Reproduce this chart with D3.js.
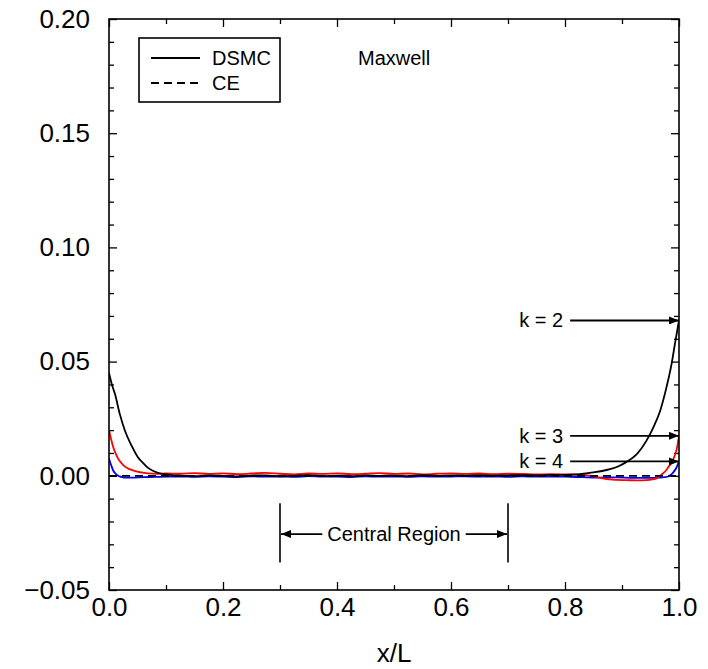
<!DOCTYPE html>
<html>
<head>
<meta charset="utf-8">
<script src="https://cdn.jsdelivr.net/npm/d3@7"></script>
<style>
  html, body { margin: 0; padding: 0; background: #fff; }
  svg { display: block; font-family: "Liberation Sans", Arial, Helvetica, sans-serif; }
</style>
</head>
<body>
<svg id="chart" width="708" height="669"></svg>
<script>
// Shared x positions through the flat middle of the channel
const xMid = [0.125, 0.15, 0.175, 0.2, 0.225, 0.25, 0.275, 0.3, 0.325, 0.35, 0.375, 0.4, 0.425,
  0.45, 0.475, 0.5, 0.525, 0.55, 0.575, 0.6, 0.625, 0.65, 0.675, 0.7, 0.725, 0.75, 0.775];

// k = 2 (DSMC)
const xK2 = [0, 0.005, 0.0105, 0.019, 0.028, 0.04, 0.051, 0.06, 0.068, 0.077, 0.086, 0.1, 0.11]
  .concat(xMid, [0.8, 0.821, 0.85, 0.865, 0.879, 0.894, 0.908, 0.926, 0.943, 0.955, 0.967, 0.978, 0.987, 0.993, 1.0]);
const yK2 = [0.0450, 0.0400, 0.0358, 0.0270, 0.0197, 0.0130, 0.0080, 0.0056, 0.0036, 0.0022, 0.0013, 0.0006, 0.0003]
  .concat([0.0001, -0.0002, 0.0002, 0.0000, -0.0003, 0.0001, 0.0002, -0.0002, 0.0000, 0.0003, -0.0001, 0.0001, -0.0002,
    0.0002, 0.0000, 0.0001, -0.0001, 0.0003, 0.0000, 0.0002, 0.0001, 0.0003, 0.0001, 0.0002, 0.0003, 0.0002, 0.0004],
    [0.0004, 0.0006, 0.0015, 0.0021, 0.0029, 0.0042, 0.0061, 0.0095, 0.0154, 0.0212, 0.0285, 0.0387, 0.0490, 0.0580, 0.0680]);

// k = 3 (DSMC)
const xK3 = [0, 0.004, 0.0076, 0.012, 0.016, 0.022, 0.028, 0.036, 0.046, 0.056, 0.068, 0.085, 0.1]
  .concat(xMid, [0.8, 0.825, 0.84, 0.855, 0.873, 0.89, 0.908, 0.925, 0.943, 0.953, 0.961, 0.970, 0.976, 0.981, 0.986, 0.990, 0.996, 1.0]);
const yK3 = [0.0200, 0.0158, 0.0124, 0.0096, 0.0075, 0.0055, 0.0040, 0.0029, 0.0020, 0.0015, 0.0011, 0.0009, 0.0010]
  .concat([0.0009, 0.0012, 0.0008, 0.0011, 0.0007, 0.0010, 0.0013, 0.0009, 0.0006, 0.0010, 0.0008, 0.0011, 0.0007,
    0.0009, 0.0012, 0.0008, 0.0010, 0.0006, 0.0009, 0.0011, 0.0008, 0.0010, 0.0007, 0.0009, 0.0008, 0.0006, 0.0007],
    [0.0006, 0.0005, 0.0002, -0.0005, -0.0015, -0.0018, -0.0019, -0.0020, -0.0019, -0.0016, -0.0010, 0.0007, 0.0020, 0.0037, 0.0055, 0.0073, 0.0117, 0.0175]);

// k = 4 (DSMC)
const xK4 = [0, 0.004, 0.0076, 0.012, 0.016, 0.022, 0.028, 0.04, 0.06, 0.08, 0.1]
  .concat(xMid, [0.8, 0.83, 0.86, 0.89, 0.92, 0.95, 0.965, 0.975, 0.981, 0.986, 0.990, 0.995, 1.0]);
const yK4 = [0.0075, 0.0045, 0.0022, 0.0008, 0.0000, -0.0005, -0.0008, -0.0008, -0.0006, -0.0005, -0.0004]
  .concat([-0.0003, -0.0005, -0.0002, -0.0004, -0.0006, -0.0002, -0.0004, -0.0003, -0.0005, -0.0001, -0.0004, -0.0003, -0.0006,
    -0.0002, -0.0004, -0.0003, -0.0005, -0.0002, -0.0004, -0.0003, -0.0002, -0.0004, -0.0003, -0.0005, -0.0002, -0.0004, -0.0003],
    [-0.0004, -0.0006, -0.0008, -0.0007, -0.0009, -0.0009, -0.0008, -0.0006, -0.0003, 0.0005, 0.0015, 0.0033, 0.0063]);

// Chapman-Enskog solution
const xCE = [0, 1];
const yCE = [0, 0];

const seriesColors = ["#000000", "#ff0000", "#0000ff"];
const seriesLabels = ["k = 2", "k = 3", "k = 4"];

const xMajorTicks = [0, 0.2, 0.4, 0.6, 0.8, 1.0];
const xMinorTicks = [0.1, 0.3, 0.5, 0.7, 0.9];
const xTickLabels = ["0.0", "0.2", "0.4", "0.6", "0.8", "1.0"];
const yMajorTicks = [-0.05, 0, 0.05, 0.10, 0.15, 0.20];
const yTickLabels = ["\u22120.05", "0.00", "0.05", "0.10", "0.15", "0.20"];
const yMinorTicks = [-0.04, -0.03, -0.02, -0.01, 0.01, 0.02, 0.03, 0.04, 0.06, 0.07, 0.08, 0.09,
  0.11, 0.12, 0.13, 0.14, 0.16, 0.17, 0.18, 0.19];

const centralBounds = [0.3, 0.7];
const centralLabel = "Central Region";
const legendLabels = ["DSMC", "CE"];
const modelLabel = "Maxwell";
const xAxisTitle = "x/L";

const svg = d3.select("#chart");
const plotLeft = 109, plotRight = 679, plotTop = 19, plotBottom = 590;

const x = d3.scaleLinear().domain([0, 1]).range([plotLeft, plotRight]);
const y = d3.scaleLinear().domain([-0.05, 0.2]).range([plotBottom, plotTop]);

const defs = svg.append("defs");
defs.append("marker").attr("id", "head").attr("viewBox", "0 0 10 8")
  .attr("refX", 10).attr("refY", 4).attr("markerWidth", 10).attr("markerHeight", 8)
  .attr("markerUnits", "userSpaceOnUse").attr("orient", "auto")
  .append("path").attr("d", "M0,0 L10,4 L0,8 Z").attr("fill", "#000");
defs.append("clipPath").attr("id", "plotClip").append("rect")
  .attr("x", plotLeft).attr("y", plotTop).attr("width", plotRight - plotLeft).attr("height", plotBottom - plotTop);

// Axes with inward ticks on all four sides
function styleAxis(g) {
  g.select(".domain").remove();
  g.selectAll(".tick line").attr("stroke", "#000").attr("stroke-width", 1.3);
  g.selectAll(".tick text").attr("fill", "#000").attr("font-size", 26)
    .attr("font-family", "'Liberation Sans', Arial, sans-serif");
}
const fmtX = d => xTickLabels[xMajorTicks.indexOf(d)];
const fmtY = d => yTickLabels[yMajorTicks.indexOf(d)];

svg.append("g").attr("transform", `translate(0,${plotBottom})`)
  .call(d3.axisBottom(x).tickValues(xMajorTicks).tickSize(-8).tickPadding(8).tickFormat(fmtX)).call(styleAxis);
svg.append("g").attr("transform", `translate(0,${plotBottom})`)
  .call(d3.axisBottom(x).tickValues(xMinorTicks).tickSize(-5).tickFormat("")).call(styleAxis);
svg.append("g").attr("transform", `translate(0,${plotTop})`)
  .call(d3.axisTop(x).tickValues(xMajorTicks).tickSize(-8).tickFormat("")).call(styleAxis);
svg.append("g").attr("transform", `translate(0,${plotTop})`)
  .call(d3.axisTop(x).tickValues(xMinorTicks).tickSize(-5).tickFormat("")).call(styleAxis);

svg.append("g").attr("transform", `translate(${plotLeft},0)`)
  .call(d3.axisLeft(y).tickValues(yMajorTicks).tickSize(-8).tickPadding(19).tickFormat(fmtY)).call(styleAxis);
svg.append("g").attr("transform", `translate(${plotLeft},0)`)
  .call(d3.axisLeft(y).tickValues(yMinorTicks).tickSize(-5).tickFormat("")).call(styleAxis);
svg.append("g").attr("transform", `translate(${plotRight},0)`)
  .call(d3.axisRight(y).tickValues(yMajorTicks).tickSize(-8).tickFormat("")).call(styleAxis);
svg.append("g").attr("transform", `translate(${plotRight},0)`)
  .call(d3.axisRight(y).tickValues(yMinorTicks).tickSize(-5).tickFormat("")).call(styleAxis);

// Curves
const line = d3.line().x(d => x(d[0])).y(d => y(d[1])).curve(d3.curveMonotoneX);
const dsmc = [d3.zip(xK2, yK2), d3.zip(xK3, yK3), d3.zip(xK4, yK4)];
const plot = svg.append("g").attr("clip-path", "url(#plotClip)");
plot.selectAll("path.dsmc").data([dsmc[2], dsmc[1], dsmc[0]]).join("path")
  .attr("class", "dsmc").attr("d", line).attr("fill", "none")
  .attr("stroke", (d, i) => seriesColors[2 - i]).attr("stroke-width", 1.8);
plot.append("path").datum(d3.zip(xCE, yCE)).attr("d", line).attr("fill", "none")
  .attr("stroke", "#000").attr("stroke-width", 1.8).attr("stroke-dasharray", "8,5");

// Frame
svg.append("rect").attr("x", plotLeft).attr("y", plotTop).attr("width", plotRight - plotLeft).attr("height", plotBottom - plotTop)
  .attr("fill", "none").attr("stroke", "#000").attr("stroke-width", 1.6);

// k labels with arrows to the wall values
const ends = [yK2[yK2.length - 1], yK3[yK3.length - 1], yK4[yK4.length - 1]];
const arrowStart = 0.809;
ends.forEach((v, i) => {
  svg.append("line").attr("x1", x(arrowStart)).attr("x2", x(1)).attr("y1", y(v)).attr("y2", y(v))
    .attr("stroke", "#000").attr("stroke-width", 1.8).attr("marker-end", "url(#head)");
  svg.append("text").attr("x", x(arrowStart) - 7).attr("y", y(v) + 7).attr("text-anchor", "end")
    .attr("font-size", 20).text(seriesLabels[i]);
});

// Central region marker
const crTop = y(-0.012), crBottom = y(-0.038), crMid = y(-0.0255);
centralBounds.forEach(b => {
  svg.append("line").attr("x1", x(b)).attr("x2", x(b)).attr("y1", crTop).attr("y2", crBottom)
    .attr("stroke", "#000").attr("stroke-width", 1.6);
});
const crText = svg.append("text").attr("x", x((centralBounds[0] + centralBounds[1]) / 2)).attr("y", crMid + 7)
  .attr("text-anchor", "middle").attr("font-size", 20).text(centralLabel);
const tw = crText.node().getComputedTextLength();
const cx = x((centralBounds[0] + centralBounds[1]) / 2);
svg.append("line").attr("x1", cx - tw / 2 - 5).attr("x2", x(centralBounds[0]) + 1).attr("y1", crMid).attr("y2", crMid)
  .attr("stroke", "#000").attr("stroke-width", 1.8).attr("marker-end", "url(#head)");
svg.append("line").attr("x1", cx + tw / 2 + 5).attr("x2", x(centralBounds[1]) - 1).attr("y1", crMid).attr("y2", crMid)
  .attr("stroke", "#000").attr("stroke-width", 1.8).attr("marker-end", "url(#head)");

// Legend
const lg = svg.append("g");
lg.append("rect").attr("x", 139).attr("y", 38).attr("width", 141).attr("height", 64)
  .attr("fill", "#fff").attr("stroke", "#000").attr("stroke-width", 1.6);
lg.append("line").attr("x1", 151).attr("x2", 200).attr("y1", 58).attr("y2", 58)
  .attr("stroke", "#000").attr("stroke-width", 1.8);
lg.append("line").attr("x1", 151).attr("x2", 200).attr("y1", 83).attr("y2", 83)
  .attr("stroke", "#000").attr("stroke-width", 1.8).attr("stroke-dasharray", "8,5");
lg.append("text").attr("x", 212).attr("y", 65).attr("font-size", 20).text(legendLabels[0]);
lg.append("text").attr("x", 212).attr("y", 90).attr("font-size", 20).text(legendLabels[1]);

svg.append("text").attr("x", 358).attr("y", 65).attr("font-size", 20).text(modelLabel);

// Axis title
svg.append("text").attr("x", x(0.5)).attr("y", 662).attr("text-anchor", "middle")
  .attr("font-size", 26).text(xAxisTitle);
</script>
</body>
</html>
